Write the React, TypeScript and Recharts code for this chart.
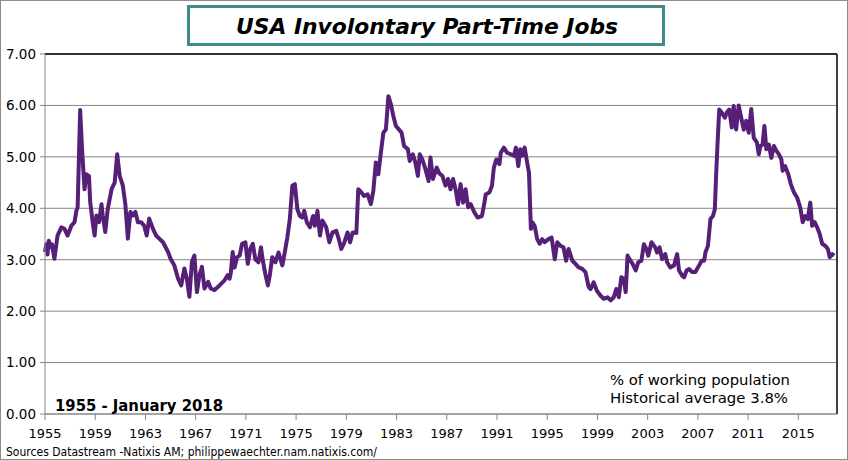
import React from 'react';
import { LineChart, Line, XAxis, YAxis, CartesianGrid, ReferenceLine } from 'recharts';

// [year, % of working population], by decade
const s1950s: [number, number][] = [
    [1955.0, 3.15], [1955.1, 3.3], [1955.2, 3.1], [1955.3, 3.37], [1955.45, 3.25], [1955.55, 3.3],
    [1955.75, 3.02], [1956.0, 3.47], [1956.3, 3.63], [1956.55, 3.6], [1956.8, 3.47], [1957.1, 3.66],
    [1957.35, 3.73], [1957.5, 3.95], [1957.6, 4.02], [1957.8, 5.91], [1957.95, 5.15], [1958.15, 4.37],
    [1958.3, 4.66], [1958.5, 4.63], [1958.6, 4.12], [1958.8, 3.73], [1958.95, 3.47], [1959.1, 3.86],
    [1959.3, 3.73], [1959.5, 4.08], [1959.6, 3.86], [1959.8, 3.54],
];
const s1960s: [number, number][] = [
    [1960.0, 3.99], [1960.3, 4.37], [1960.55, 4.5], [1960.75, 5.05], [1960.95, 4.63], [1961.2, 4.44],
    [1961.4, 4.08], [1961.6, 3.41], [1961.8, 3.93], [1962.0, 3.86], [1962.2, 3.93], [1962.4, 3.73],
    [1962.65, 3.73], [1962.9, 3.66], [1963.1, 3.47], [1963.3, 3.8], [1963.6, 3.6], [1963.85, 3.47],
    [1964.1, 3.41], [1964.4, 3.34], [1964.8, 3.15], [1965.0, 3.02], [1965.3, 2.89], [1965.6, 2.63],
    [1965.85, 2.5], [1966.1, 2.83], [1966.3, 2.63], [1966.5, 2.28], [1966.7, 2.96], [1966.9, 3.08],
    [1967.1, 2.37], [1967.3, 2.7], [1967.5, 2.86], [1967.7, 2.44], [1968.0, 2.57], [1968.2, 2.44],
    [1968.5, 2.41], [1968.9, 2.5], [1969.3, 2.6], [1969.55, 2.7], [1969.7, 2.63], [1969.8, 2.75],
    [1969.95, 3.15],
];
const s1970s: [number, number][] = [
    [1970.1, 2.85], [1970.3, 3.05], [1970.5, 3.08], [1970.7, 3.31], [1970.96, 3.34], [1971.15, 2.92],
    [1971.35, 3.21], [1971.55, 3.31], [1971.75, 3.01], [1972.0, 2.95], [1972.2, 3.24], [1972.35, 2.98],
    [1972.55, 2.72], [1972.75, 2.5], [1972.9, 2.69], [1973.1, 3.05], [1973.35, 2.95], [1973.6, 3.14],
    [1973.9, 2.89], [1974.05, 3.08], [1974.3, 3.43], [1974.5, 3.79], [1974.7, 4.44], [1974.9, 4.47],
    [1975.1, 3.98], [1975.3, 3.85], [1975.5, 3.82], [1975.65, 3.95], [1975.85, 3.73], [1976.1, 3.63],
    [1976.35, 3.85], [1976.5, 3.66], [1976.7, 3.95], [1976.9, 3.47], [1977.1, 3.76], [1977.4, 3.63],
    [1977.65, 3.34], [1977.9, 3.53], [1978.2, 3.56], [1978.4, 3.4], [1978.6, 3.21], [1978.85, 3.34],
    [1979.1, 3.53], [1979.3, 3.34], [1979.5, 3.53], [1979.8, 3.52], [1979.95, 4.37],
];
const s1980s: [number, number][] = [
    [1980.2, 4.31], [1980.4, 4.24], [1980.7, 4.27], [1980.95, 4.08], [1981.15, 4.34], [1981.35, 4.89],
    [1981.55, 4.66], [1981.75, 5.08], [1981.95, 5.47], [1982.15, 5.53], [1982.35, 6.18], [1982.55, 6.02],
    [1982.75, 5.79], [1982.95, 5.6], [1983.2, 5.53], [1983.4, 5.47], [1983.6, 5.21], [1983.9, 5.15],
    [1984.05, 4.92], [1984.3, 5.05], [1984.5, 4.89], [1984.7, 4.63], [1984.85, 5.05], [1985.05, 4.95],
    [1985.3, 4.76], [1985.55, 4.53], [1985.7, 4.99], [1985.9, 4.57], [1986.2, 4.79], [1986.4, 4.68],
    [1986.65, 4.63], [1986.9, 4.44], [1987.1, 4.57], [1987.3, 4.37], [1987.5, 4.57], [1987.7, 4.37],
    [1987.9, 4.08], [1988.1, 4.47], [1988.3, 4.11], [1988.5, 4.37], [1988.7, 4.02], [1988.9, 4.08],
    [1989.2, 3.92], [1989.45, 3.82], [1989.8, 3.85],
];
const s1990s: [number, number][] = [
    [1990.0, 4.11], [1990.1, 4.27], [1990.4, 4.31], [1990.6, 4.44], [1990.75, 4.79], [1990.95, 4.95],
    [1991.2, 4.86], [1991.3, 5.08], [1991.55, 5.18], [1991.8, 5.08], [1992.1, 5.05], [1992.35, 5.02],
    [1992.5, 5.18], [1992.7, 4.82], [1992.85, 5.15], [1993.0, 5.02], [1993.2, 5.18], [1993.4, 4.89],
    [1993.55, 4.69], [1993.7, 3.6], [1993.8, 3.73], [1994.0, 3.66], [1994.2, 3.4], [1994.4, 3.31],
    [1994.6, 3.4], [1994.8, 3.34], [1995.1, 3.4], [1995.35, 3.43], [1995.6, 3.01], [1995.8, 3.34],
    [1996.05, 3.27], [1996.3, 3.24], [1996.5, 2.98], [1996.7, 3.21], [1997.0, 2.98], [1997.25, 2.92],
    [1997.5, 2.85], [1997.8, 2.82], [1998.05, 2.76], [1998.3, 2.47], [1998.45, 2.43], [1998.7, 2.56],
    [1998.95, 2.4], [1999.25, 2.3], [1999.5, 2.24], [1999.8, 2.27],
];
const s2000s: [number, number][] = [
    [2000.05, 2.21], [2000.3, 2.27], [2000.5, 2.43], [2000.7, 2.27], [2000.9, 2.66], [2001.1, 2.63],
    [2001.25, 2.37], [2001.4, 3.08], [2001.55, 3.01], [2001.8, 2.92], [2002.05, 2.79], [2002.25, 2.95],
    [2002.5, 2.98], [2002.7, 3.3], [2002.9, 3.21], [2003.05, 3.08], [2003.3, 3.34], [2003.6, 3.24],
    [2003.75, 3.14], [2003.95, 3.24], [2004.15, 3.01], [2004.4, 3.11], [2004.55, 2.95], [2004.8, 2.85],
    [2005.1, 2.89], [2005.35, 3.11], [2005.5, 2.79], [2005.75, 2.69], [2005.9, 2.66], [2006.1, 2.79],
    [2006.3, 2.82], [2006.55, 2.76], [2006.8, 2.76], [2007.1, 2.89], [2007.3, 2.98], [2007.5, 2.98],
    [2007.6, 3.14], [2007.8, 3.27], [2008.0, 3.79], [2008.2, 3.85], [2008.35, 3.98], [2008.45, 4.63],
    [2008.55, 5.18], [2008.7, 5.92], [2008.9, 5.86], [2009.15, 5.76], [2009.3, 5.86], [2009.5, 5.92],
    [2009.7, 5.57], [2009.85, 5.99],
];
const s2010s: [number, number][] = [
    [2010.05, 5.53], [2010.25, 6.0], [2010.45, 5.76], [2010.65, 5.53], [2010.85, 5.7], [2011.05, 5.47],
    [2011.25, 5.93], [2011.45, 5.37], [2011.7, 5.28], [2011.85, 5.05], [2011.98, 5.21], [2012.15, 5.24],
    [2012.3, 5.6], [2012.45, 5.15], [2012.65, 5.24], [2012.85, 4.98], [2013.05, 5.21], [2013.25, 5.12],
    [2013.45, 5.05], [2013.65, 4.95], [2013.75, 4.73], [2013.95, 4.82], [2014.2, 4.66], [2014.4, 4.47],
    [2014.65, 4.31], [2014.9, 4.21], [2015.15, 4.02], [2015.35, 3.73], [2015.55, 3.85], [2015.75, 3.79],
    [2015.95, 4.11], [2016.1, 3.66], [2016.3, 3.73], [2016.5, 3.63], [2016.7, 3.5], [2016.9, 3.31],
    [2017.15, 3.27], [2017.35, 3.21], [2017.5, 3.05], [2017.7, 3.11], [2017.85, 3.08],
];

const X_TICKS = [1955, 1959, 1963, 1967, 1971, 1975, 1979, 1983, 1987, 1991, 1995, 1999, 2003, 2007, 2011, 2015];
const Y_TICKS = [0, 1, 2, 3, 4, 5, 6, 7];
const X_END = 2018.08;

const data = [...s1950s, ...s1960s, ...s1970s, ...s1980s, ...s1990s, ...s2000s, ...s2010s]
    .map(([year, value]) => ({ year, value }));

const FONT = '"DejaVu Sans", Verdana, sans-serif';

export default function App() {
    return (
        <div style={{ position: 'absolute', left: 0, top: 0, width: 848, height: 460, background: '#fff' }}>
            <LineChart width={848} height={460} data={data} margin={{ top: 54, right: 11, left: 0, bottom: 16 }}>
                <CartesianGrid vertical={false} stroke="#868686" />
                <XAxis
                    dataKey="year"
                    type="number"
                    domain={[1955, X_END]}
                    ticks={X_TICKS}
                    interval={0}
                    height={30}
                    tickSize={6}
                    tickMargin={9}
                    axisLine={{ stroke: '#868686' }}
                    tickLine={{ stroke: '#868686' }}
                    tick={{ fill: '#000', fontSize: 13, fontFamily: FONT }}
                />
                <YAxis
                    domain={[0, 7]}
                    ticks={Y_TICKS}
                    width={45}
                    tickSize={5}
                    tickMargin={4}
                    tickFormatter={(v: number) => v.toFixed(2)}
                    axisLine={{ stroke: '#868686' }}
                    tickLine={{ stroke: '#868686' }}
                    tick={{ fill: '#000', fontSize: 13.5, fontFamily: FONT }}
                />
                <ReferenceLine y={7} stroke="#000" strokeWidth={1.5} />
                <ReferenceLine x={X_END} stroke="#000" strokeWidth={1.5} />
                <Line
                    type="linear"
                    dataKey="value"
                    stroke="#561f78"
                    strokeWidth={4}
                    strokeLinejoin="round"
                    dot={false}
                    isAnimationActive={false}
                />
            </LineChart>
            <svg width={848} height={460} style={{ position: 'absolute', left: 0, top: 0, pointerEvents: 'none' }}>
                <rect x={0.5} y={0.5} width={847} height={459} fill="none" stroke="#8c8c8c" />
                <rect x={188.5} y={6.5} width={475} height={38} fill="#fff" stroke="#3d8b8b" strokeWidth={3} />
                <text x={236} y={34} fontFamily={FONT} fontWeight="bold" fontStyle="italic" fontSize={21}
                    textLength={382} lengthAdjust="spacingAndGlyphs">USA Involontary Part-Time Jobs</text>
                <text x={55} y={411} fontFamily={FONT} fontWeight="bold" fontSize={16}
                    textLength={168} lengthAdjust="spacingAndGlyphs">1955 - January 2018</text>
                <text x={610} y={385} fontFamily={FONT} fontSize={14}
                    textLength={180} lengthAdjust="spacingAndGlyphs">% of working population</text>
                <text x={610} y={403} fontFamily={FONT} fontSize={14}
                    textLength={178} lengthAdjust="spacingAndGlyphs">Historical average 3.8%</text>
                <text x={6} y={456} fontFamily={FONT} fontSize={12}
                    textLength={371} lengthAdjust="spacingAndGlyphs">Sources Datastream -Natixis AM; philippewaechter.nam.natixis.com/</text>
            </svg>
        </div>
    );
}
